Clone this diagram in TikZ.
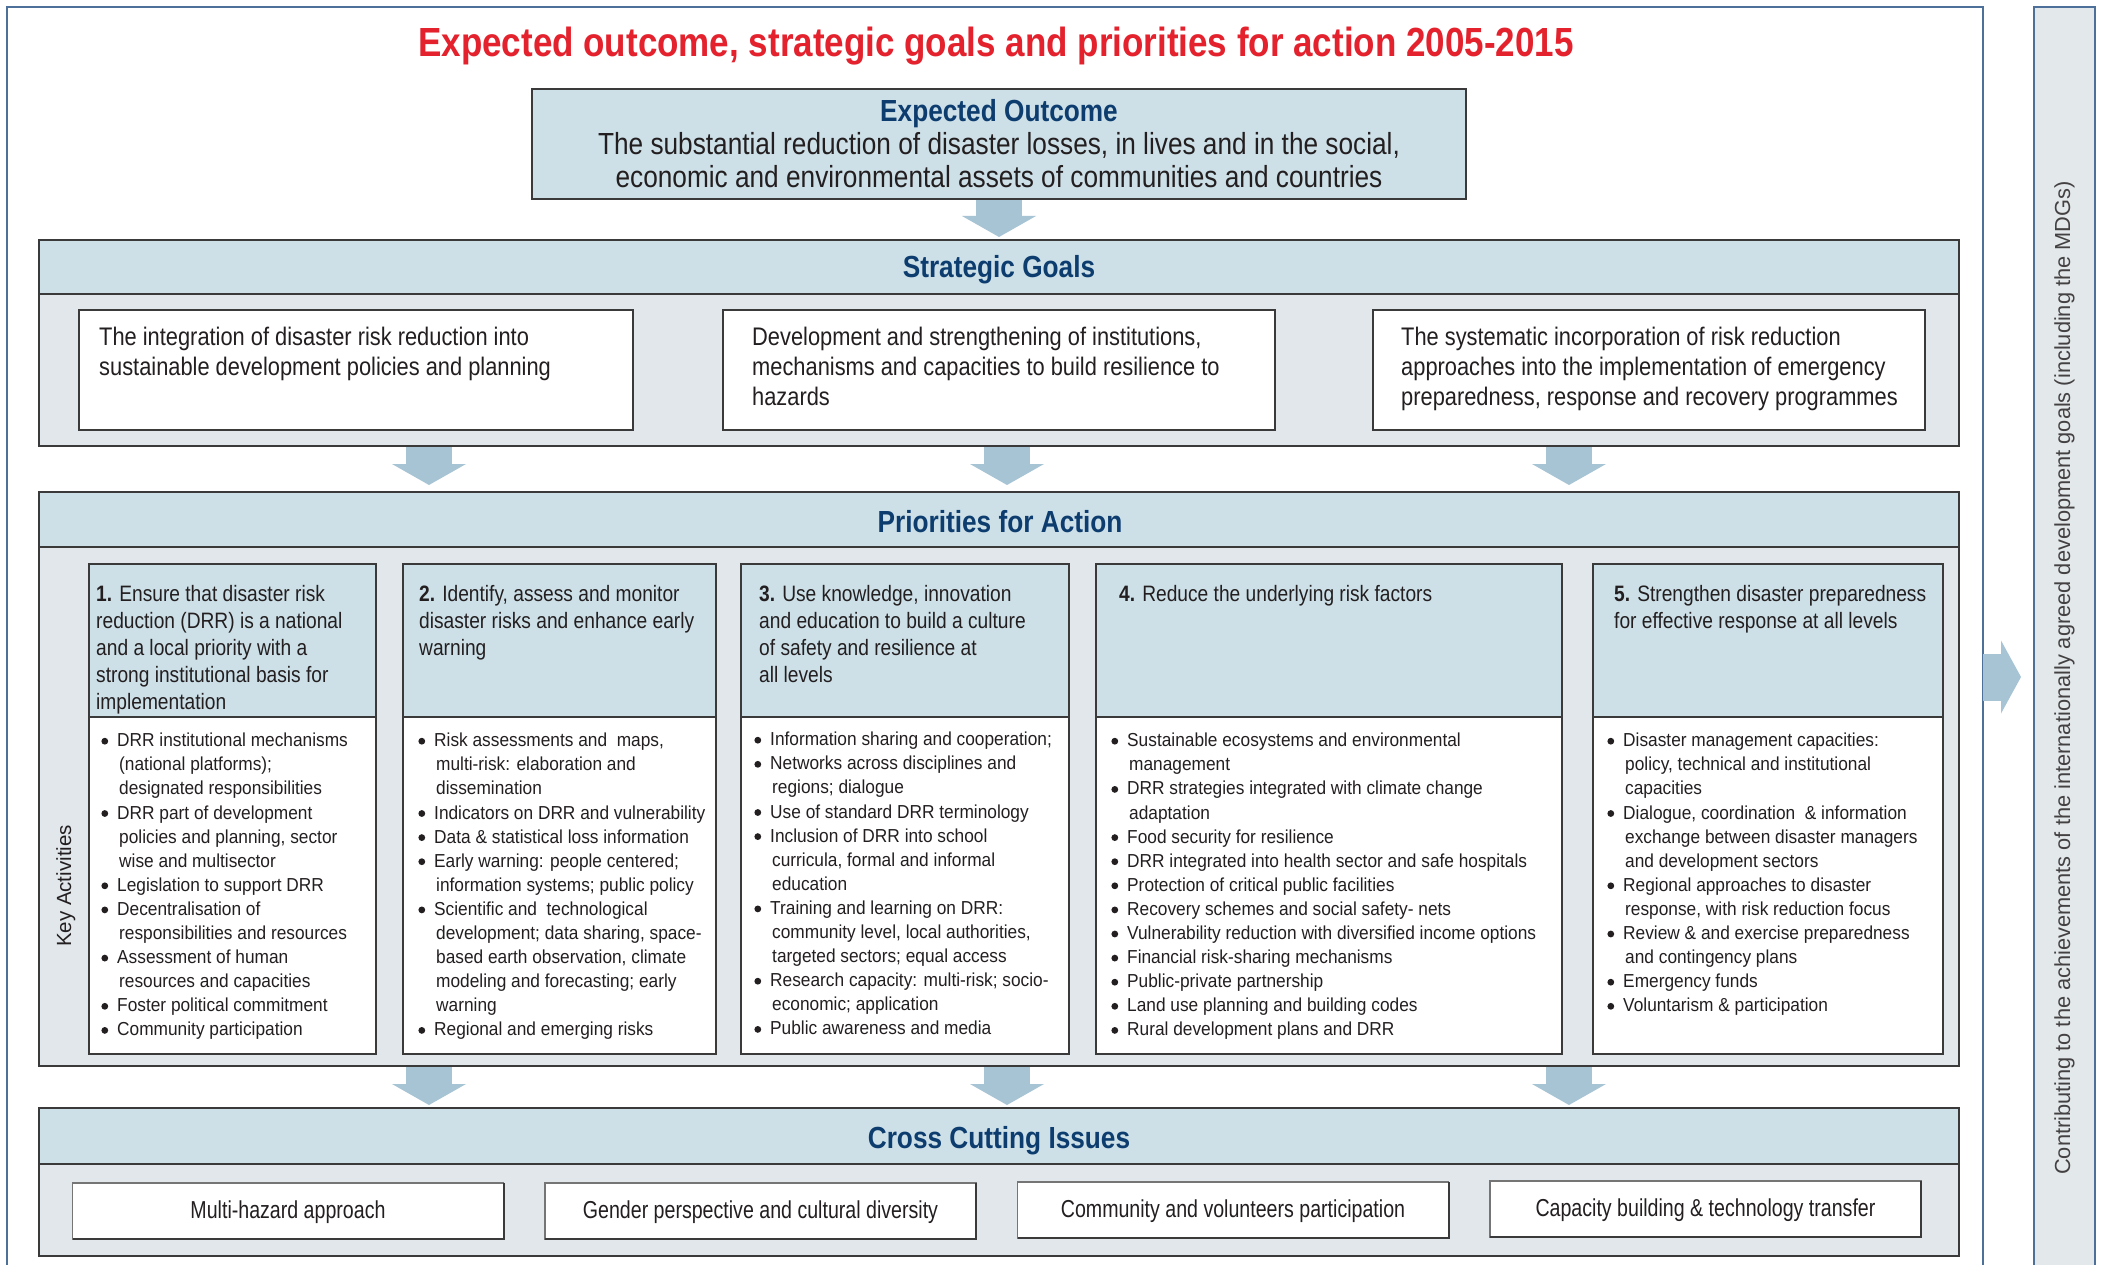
\documentclass[tikz,border=0pt]{standalone}
\usepackage{fontspec}
\setmainfont{Liberation Sans}
\newfontfamily\nA[FakeStretch=0.86]{Liberation Sans}
\newfontfamily\nB[FakeStretch=0.92]{Liberation Sans}
\newfontfamily\nC[FakeStretch=0.80]{Liberation Sans}
\usetikzlibrary{arrows.meta,calc}
\definecolor{hdr}{HTML}{CDE0E8}
\definecolor{bodyc}{HTML}{E1E7EA}
\definecolor{arrc}{HTML}{A7C4D4}
\definecolor{navy}{HTML}{0D3C6E}
\definecolor{titred}{HTML}{E3222D}
\definecolor{framec}{HTML}{4D709A}
\definecolor{bordc}{HTML}{3A3A3A}
\definecolor{txt}{HTML}{231F20}
\definecolor{sidec}{HTML}{E3E8EB}
\newcommand\bu{\makebox[16pt][l]{\rule{0pt}{15pt}\tikz[x=1pt,y=1pt,baseline=0pt]{\path (0,0) rectangle (1,1); \fill[txt] (3.6,5.5) circle[radius=3.4pt];}}}
\newcommand\ci{\hspace*{18pt}}
\newcommand\hs{\rule{0pt}{18pt}}
\tikzset{
  bandline/.style={draw=bordc, line width=2.2pt},
  pline/.style={draw=bordc, line width=1.8pt},
  head/.style={font=\nA\bfseries\fontsize{30.5}{34}\selectfont, text=navy, inner sep=0pt, anchor=base},
  goaltxt/.style={font=\nA\fontsize{25.4}{30}\selectfont, text=txt, align=left, anchor=north west, inner sep=0pt},
  prtxt/.style={font=\nA\fontsize{22.3}{27}\selectfont, text=txt, align=left, anchor=north west, inner sep=0pt},
  bultxt/.style={font=\nB\fontsize{18.8}{24.1}\selectfont, text=txt, align=left, anchor=north west, inner sep=0pt},
  ccibox/.style={draw=bordc!70, line width=1.5pt, fill=white, minimum width=431, minimum height=56, inner sep=0pt, outer sep=0pt,
     font=\nC\fontsize{24.5}{28}\selectfont, text=txt, text height=15pt, text depth=0pt},
  ccishade/.style={draw=bordc, line width=2pt},
  emptybox/.style={inner sep=0pt, outer sep=0pt, anchor=north west},
  barrow/.style={draw=arrc, line width=46pt, -{Triangle[width=74pt, length=21pt, line width=0pt]}},
  rarrow/.style={draw=arrc, line width=47pt, -{Triangle[width=73pt, length=20pt, line width=0pt]}},
}
\begin{document}
\begin{tikzpicture}[x=1pt,y=-1pt]
\useasboundingbox (0,0) rectangle (2105,1265);
\fill[white] (0,0) rectangle (2105,1265);

% outer frame and side bar
\draw[framec, line width=2pt] (7,1270) -- (7,7) -- (1983,7) -- (1983,1270);
\node[emptybox, draw=framec, fill=sidec, line width=2pt, minimum width=61, minimum height=1275] (bar) at (2034,7) {};
\node[rotate=90, anchor=base, inner sep=0pt, font=\fontsize{21.8}{26}\selectfont, text=txt!85] (sidetxt) at (2070,678)
  {Contributing to the achievements of the internationally agreed development goals (including the MDGs)};
\coordinate (fr) at (1983,677);
\draw[rarrow, shorten >=13pt] (fr) -- (bar.west |- fr);

% title
\node[font=\nA\bfseries\fontsize{40.7}{48}\selectfont, text=titred, anchor=base, inner sep=0pt] (title) at (996,57)
  {Expected outcome, strategic goals and priorities for action 2005-2015};

% band nodes
\node[emptybox, minimum width=934, minimum height=110] (eo) at (532,89) {};
\node[emptybox, minimum width=1920, minimum height=206] (sg) at (39,240) {};
\node[emptybox, minimum width=1920, minimum height=574] (pa) at (39,492) {};
\node[emptybox, minimum width=1920, minimum height=148] (cci) at (39,1108) {};

% arrow x positions
\coordinate (x1) at (429,0);
\coordinate (x2) at (1007,0);
\coordinate (x3) at (1569,0);

% block arrows
\draw[barrow, shorten >=3pt] (eo.south) -- (sg.north -| eo.south);
\foreach \c in {x1,x2,x3}{
  \draw[barrow, shorten >=7pt] (sg.south -| \c) -- (pa.north -| \c);
  \draw[barrow, shorten >=3pt] (pa.south -| \c) -- (cci.north -| \c);
}

% Expected outcome box
\fill[hdr] (eo.north west) rectangle (eo.south east);
\draw[bandline] (eo.north west) rectangle (eo.south east);
\node[head] (eoh) at (999,122) {Expected Outcome};
\node[font=\nA\fontsize{30.5}{33.5}\selectfont, text=txt, align=center, anchor=north, inner sep=0pt] (eob) at (999,130)
  {\rule{0pt}{24pt}The substantial reduction of disaster losses, in lives and in the social,\\economic and environmental assets of communities and countries};

% Strategic goals band
\fill[bodyc] (sg.north west) rectangle (sg.south east);
\fill[hdr] (sg.north west) rectangle ($(sg.north east)+(0,54)$);
\draw[bandline] ($(sg.north west)+(0,54)$) -- ($(sg.north east)+(0,54)$);
\draw[bandline] (sg.north west) rectangle (sg.south east);
\node[head] (sgh) at (999,278) {Strategic Goals};
\node[emptybox, draw=bordc, fill=white, line width=1.8pt, minimum width=554, minimum height=120] (g1) at (79,310) {};
\node[emptybox, draw=bordc, fill=white, line width=1.8pt, minimum width=552, minimum height=120] (g2) at (723,310) {};
\node[emptybox, draw=bordc, fill=white, line width=1.8pt, minimum width=552, minimum height=120] (g3) at (1373,310) {};
\node[goaltxt] (g1t) at (99,325) {\rule{0pt}{20pt}The integration of disaster risk reduction into\\sustainable development policies and planning};
\node[goaltxt] (g2t) at (752,325) {\rule{0pt}{20pt}Development and strengthening of institutions,\\mechanisms and capacities to build resilience to\\hazards};
\node[goaltxt] (g3t) at (1401,325) {\rule{0pt}{20pt}The systematic incorporation of risk reduction\\approaches into the implementation of emergency\\preparedness, response and recovery programmes};

% Priorities band
\fill[bodyc] (pa.north west) rectangle (pa.south east);
\fill[hdr] (pa.north west) rectangle ($(pa.north east)+(0,55)$);
\draw[bandline] ($(pa.north west)+(0,55)$) -- ($(pa.north east)+(0,55)$);
\draw[bandline] (pa.north west) rectangle (pa.south east);
\node[head] (pah) at (1000,532) {Priorities for Action};
\foreach \l/\r in {89/376, 403/716, 741/1069, 1096/1562, 1593/1943}{
  \fill[white] (\l,564) rectangle (\r,1054);
  \fill[hdr] (\l,564) rectangle (\r,717);
  \draw[pline] (\l,717) -- (\r,717);
  \draw[pline] (\l,564) rectangle (\r,1054);
}
\node[rotate=90, anchor=base, inner sep=0pt, font=\fontsize{20.5}{24}\selectfont, text=txt] (ka) at (71,886) {Key Activities};

\node[prtxt] (p1) at (96,583.5) {\hs\textbf{1.} Ensure that disaster risk\\reduction (DRR) is a national\\and a local priority with a\\strong institutional basis for\\implementation};
\node[prtxt] (p2) at (419,583.5) {\hs\textbf{2.} Identify, assess and monitor\\disaster risks and enhance early\\warning};
\node[prtxt] (p3) at (759,583.5) {\hs\textbf{3.} Use knowledge, innovation\\and education to build a culture\\of safety and resilience at\\all levels};
\node[prtxt] (p4) at (1119,583.5) {\hs\textbf{4.} Reduce the underlying risk factors};
\node[prtxt] (p5) at (1614,583.5) {\hs\textbf{5.} Strengthen disaster preparedness\\for effective response at all levels};

\node[bultxt] (b1) at (101,731.5) {\bu DRR institutional mechanisms\\ \ci (national platforms);\\ \ci designated responsibilities\\
 \bu DRR part of development\\ \ci policies and planning, sector\\ \ci wise and multisector\\ \bu Legislation to support DRR\\
 \bu Decentralisation of\\ \ci responsibilities and resources\\ \bu Assessment of human\\ \ci resources and capacities\\
 \bu Foster political commitment\\ \bu Community participation};
\node[bultxt] (b2) at (418,731.5) {\bu Risk assessments and\ \ maps,\\ \ci multi-risk: elaboration and\\ \ci dissemination\\
 \bu Indicators on DRR and vulnerability\\ \bu Data \& statistical loss information\\ \bu Early warning: people centered;\\
 \ci information systems; public policy\\ \bu Scientific and\ \ technological\\ \ci development; data sharing, space-\\
 \ci based earth observation, climate\\ \ci modeling and forecasting; early\\ \ci warning\\ \bu Regional and emerging risks};
\node[bultxt] (b3) at (754,730.5) {\bu Information sharing and cooperation;\\ \bu Networks across disciplines and\\ \ci regions; dialogue\\
 \bu Use of standard DRR terminology\\ \bu Inclusion of DRR into school\\ \ci curricula, formal and informal\\ \ci education\\
 \bu Training and learning on DRR:\\ \ci community level, local authorities,\\ \ci targeted sectors; equal access\\
 \bu Research capacity: multi-risk; socio-\\ \ci economic; application\\ \bu Public awareness and media};
\node[bultxt] (b4) at (1111,731.5) {\bu Sustainable ecosystems and environmental\\ \ci management\\ \bu DRR strategies integrated with climate change\\
 \ci adaptation\\ \bu Food security for resilience\\ \bu DRR integrated into health sector and safe hospitals\\
 \bu Protection of critical public facilities\\ \bu Recovery schemes and social safety- nets\\
 \bu Vulnerability reduction with diversified income options\\ \bu Financial risk-sharing mechanisms\\
 \bu Public-private partnership\\ \bu Land use planning and building codes\\ \bu Rural development plans and DRR};
\node[bultxt] (b5) at (1607,731.5) {\bu Disaster management capacities:\\ \ci policy, technical and institutional\\ \ci capacities\\
 \bu Dialogue, coordination\ \ \& information\\ \ci exchange between disaster managers\\ \ci and development sectors\\
 \bu Regional approaches to disaster\\ \ci response, with risk reduction focus\\ \bu Review \& and exercise preparedness\\
 \ci and contingency plans\\ \bu Emergency funds\\ \bu Voluntarism \& participation};

% Cross cutting issues band
\fill[bodyc] (cci.north west) rectangle (cci.south east);
\fill[hdr] (cci.north west) rectangle ($(cci.north east)+(0,56)$);
\draw[bandline] ($(cci.north west)+(0,56)$) -- ($(cci.north east)+(0,56)$);
\draw[bandline] (cci.north west) rectangle (cci.south east);
\node[head] (ccih) at (999,1148) {Cross Cutting Issues};
\node[ccibox] (c1) at (288,1211) {Multi-hazard approach};
\node[ccibox] (c2) at (760.5,1211) {Gender perspective and cultural diversity};
\node[ccibox] (c3) at (1233,1210) {Community and volunteers participation};
\node[ccibox] (c4) at (1705.5,1209) {Capacity building \& technology transfer};
\foreach \n in {c1,c2,c3,c4}{
  \draw[ccishade] (\n.south west) -- (\n.south east) -- (\n.north east);
}
\end{tikzpicture}
\end{document}
